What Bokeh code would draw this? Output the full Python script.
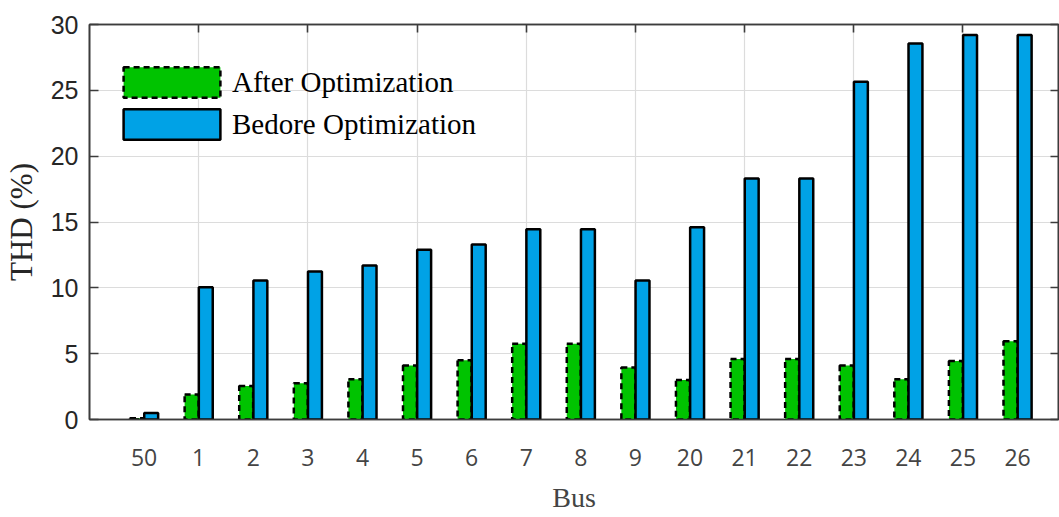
from bokeh.plotting import figure
from bokeh.models import (ColumnDataSource, FixedTicker, LinearAxis, Legend, LegendItem,
                          CustomJSTickFormatter, Range1d)
from bokeh.transform import dodge
from bokeh.embed import file_html
from bokeh.resources import INLINE

# THD per bus, before and after optimization (%)
buses = ["50", "1", "2", "3", "4", "5", "6", "7", "8", "9",
         "20", "21", "22", "23", "24", "25", "26"]
thd_after = [0.1, 1.9, 2.55, 2.75, 3.05, 4.1, 4.5, 5.75, 5.75, 3.95,
             3.0, 4.6, 4.6, 4.1, 3.05, 4.45, 5.95]
thd_before = [0.5, 10.05, 10.55, 11.25, 11.7, 12.9, 13.3, 14.45, 14.45, 10.55,
              14.6, 18.3, 18.3, 25.65, 28.55, 29.2, 29.2]

pos = list(range(1, len(buses) + 1))
src = ColumnDataSource(dict(pos=pos, after=thd_after, before=thd_before))

AX = "#3c3c3c"

p = figure(width=1059, height=517, output_backend="svg", toolbar_location=None,
           x_range=Range1d(0, 17.75), y_range=Range1d(0, 30),
           min_border_left=88, min_border_right=1, min_border_top=24, min_border_bottom=98)
p.background_fill_color = "white"
p.border_fill_color = "white"
p.outline_line_color = AX
p.outline_line_width = 1.6

# grid
p.xgrid.ticker = FixedTicker(ticks=[2, 4, 6, 8, 10, 12, 14, 16])
p.ygrid.ticker = FixedTicker(ticks=[5, 10, 15, 20, 25])
p.xgrid.grid_line_color = "#dcdcdc"
p.ygrid.grid_line_color = "#dcdcdc"
p.xgrid.grid_line_width = 1.2
p.ygrid.grid_line_width = 1.2

bw = 0.255
r_after = p.vbar(x=dodge("pos", -0.13, range=p.x_range), top="after", width=bw, source=src,
                 fill_color="#00c300", line_color="black", line_width=2.5, line_dash="6 4")
r_before = p.vbar(x=dodge("pos", 0.13, range=p.x_range), top="before", width=bw, source=src,
                  fill_color="#00a2e6", line_color="black", line_width=2.5)

# bottom axis: bus names under each group
xa = p.xaxis[0]
xa.ticker = FixedTicker(ticks=pos)
xa.major_label_overrides = {k: b for k, b in zip(pos, buses)}
xa.major_tick_in = 0
xa.major_tick_out = 0
xa.minor_tick_line_color = None
xa.axis_line_color = AX
xa.axis_line_width = 1.6
xa.major_label_standoff = 29
xa.major_label_text_font = "Open Sans"
xa.major_label_text_font_size = "23px"
xa.major_label_text_color = "#444444"
xa.axis_label = "Bus"
xa.axis_label_text_font = "Liberation Serif"
xa.axis_label_text_font_style = "normal"
xa.axis_label_text_font_size = "28px"
xa.axis_label_text_color = "#444444"
xa.axis_label_standoff = 13

# left axis
ya = p.yaxis[0]
ya.ticker = FixedTicker(ticks=[0, 5, 10, 15, 20, 25, 30])
ya.major_tick_in = 9
ya.major_tick_out = 0
ya.minor_tick_line_color = None
ya.axis_line_color = AX
ya.axis_line_width = 1.6
ya.major_tick_line_color = AX
ya.major_tick_line_width = 1.6
ya.major_label_standoff = 11
ya.major_label_text_font = "Liberation Sans"
ya.major_label_text_font_size = "25px"
ya.major_label_text_color = "#262626"
ya.axis_label = "THD (%)"
ya.axis_label_text_font = "Liberation Serif"
ya.axis_label_text_font_style = "normal"
ya.axis_label_text_font_size = "31px"
ya.axis_label_text_color = "#262626"
ya.axis_label_standoff = 9

blank = CustomJSTickFormatter(code="return ''")

top_ax = LinearAxis(ticker=FixedTicker(ticks=[2, 4, 6, 8, 10, 12, 14, 16]), formatter=blank,
                    major_tick_in=8, major_tick_out=0, minor_tick_line_color=None,
                    major_label_standoff=0, major_label_text_font_size="1px",
                    axis_line_color=AX, axis_line_width=1.6,
                    major_tick_line_color=AX, major_tick_line_width=1.6)
p.add_layout(top_ax, "above")

right_ax = LinearAxis(ticker=FixedTicker(ticks=[0, 5, 10, 15, 20, 25, 30]), formatter=blank,
                      major_tick_in=8, major_tick_out=0, minor_tick_line_color=None,
                      major_label_standoff=0, major_label_text_font_size="1px",
                      axis_line_color=AX, axis_line_width=1.6,
                      major_tick_line_color=AX, major_tick_line_width=1.6)
p.add_layout(right_ax, "right")

legend = Legend(items=[LegendItem(label="After Optimization", renderers=[r_after]),
                       LegendItem(label="Bedore Optimization", renderers=[r_before])],
                location=(22, 276), padding=0, margin=0, spacing=4,
                glyph_width=121, glyph_height=38, label_standoff=-7,
                label_text_font="Liberation Serif", label_text_font_size="29px",
                label_text_color="black",
                background_fill_alpha=0, border_line_alpha=0)
p.add_layout(legend, "center")

open("out.html", "w").write(file_html(p, INLINE))
